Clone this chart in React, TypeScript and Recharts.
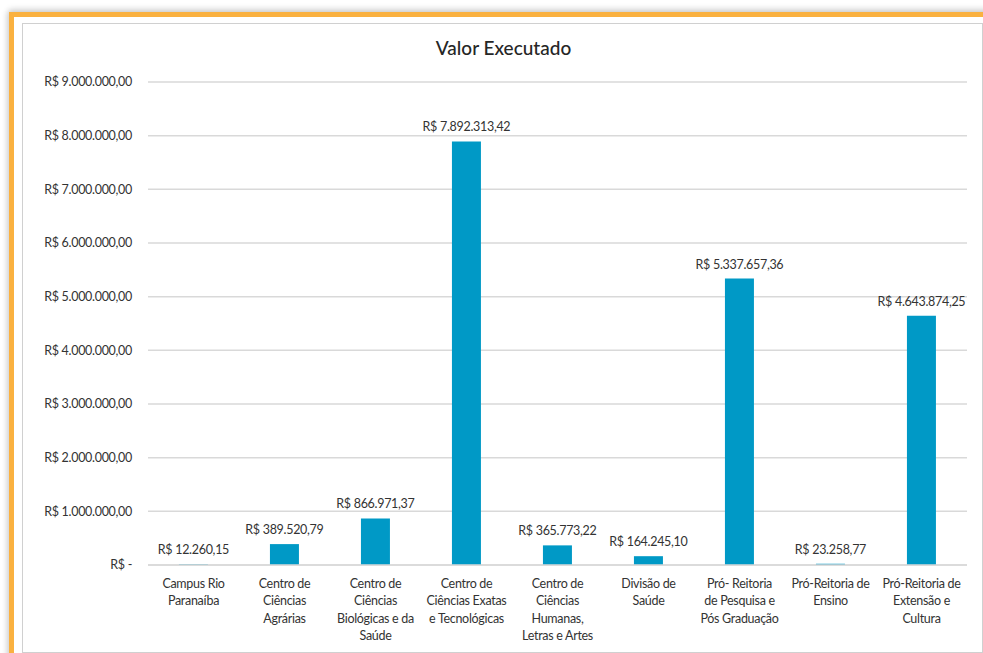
import React from "react";
import { BarChart, Bar, XAxis, YAxis, CartesianGrid, LabelList } from "recharts";

const categories = [
  "Campus Rio\nParanaíba",
  "Centro de\nCiências\nAgrárias",
  "Centro de\nCiências\nBiológicas e da\nSaúde",
  "Centro de\nCiências Exatas\ne Tecnológicas",
  "Centro de\nCiências\nHumanas,\nLetras e Artes",
  "Divisão de\nSaúde",
  "Pró- Reitoria\nde Pesquisa e\nPós Graduação",
  "Pró-Reitoria de\nEnsino",
  "Pró-Reitoria de\nExtensão e\nCultura",
];

const valorExecutado = [
  12260.15, 389520.79, 866971.37, 7892313.42, 365773.22, 164245.1, 5337657.36, 23258.77, 4643874.25,
];

const yTicks = [0, 1000000, 2000000, 3000000, 4000000, 5000000, 6000000, 7000000, 8000000, 9000000];

const data = categories.map((c, i) => ({ name: c, value: valorExecutado[i] }));

const FONT = "Lato, 'Open Sans', sans-serif";

function brl(v: number): string {
  if (v === 0) return "R$ -";
  const fixed = v.toFixed(2);
  const [intPart, dec] = fixed.split(".");
  const withDots = intPart.replace(/\B(?=(\d{3})+(?!\d))/g, ".");
  return "R$ " + withDots + "," + dec;
}

const XTick = (props: any) => {
  const { x, y, payload } = props;
  const lines = String(payload.value).split("\n");
  return (
    <g transform={`translate(${x},${y})`}>
      {lines.map((l: string, i: number) => (
        <text key={i} x={0} y={22 + i * 17.3 - 7} dy="0" textAnchor="middle" fontSize={12.5} fill="#333" fontFamily={FONT} letterSpacing={-0.3}>
          {l}
        </text>
      ))}
    </g>
  );
};

const BarLabel = (props: any) => {
  const { x, y, width, value } = props;
  return (
    <text x={x + width / 2} y={y - 10} textAnchor="middle" fontSize={12.5} fill="#333" fontFamily={FONT} letterSpacing={-0.3}>
      {brl(Number(value))}
    </text>
  );
};

export default function App() {
  return (
    <div style={{ position: "absolute", left: 0, top: 0, width: 983, height: 653, background: "#fff", overflow: "hidden" }}>
      <div
        style={{
          position: "absolute",
          left: 9,
          top: 12,
          width: 1000,
          height: 700,
          border: "5px solid #FAB140",
          boxShadow: "0 -3px 6px rgba(0,0,0,0.15), -3px 0 6px rgba(0,0,0,0.1)",
          background: "#fff",
        }}
      />
      <div
        style={{
          position: "absolute",
          left: 22,
          top: 23,
          width: 959,
          height: 628,
          border: "1px solid #d0d0d0",
          background: "#fff",
        }}
      />
      <div
        style={{
          position: "absolute",
          left: 0,
          width: 983,
          top: 36,
          textAlign: "center",
          paddingLeft: 24,
          boxSizing: "border-box",
          fontFamily: FONT,
          fontSize: 19,
          color: "#262626",
          fontWeight: 500,
        }}
      >
        Valor Executado
      </div>
      <div style={{ position: "absolute", left: 0, top: 0 }}>
        <BarChart
          width={983}
          height={653}
          data={data}
          margin={{ top: 82, right: 16, left: 8, bottom: 0 }}
          barCategoryGap="34%"
        >
          <CartesianGrid vertical={false} stroke="#d9d9d9" strokeWidth={1.5} />
          <XAxis
            dataKey="name"
            axisLine={{ stroke: "#d9d9d9", strokeWidth: 1.5 }}
            tickLine={false}
            interval={0}
            tick={<XTick />}
            height={88}
          />
          <YAxis
            width={140}
            domain={[0, 9000000]}
            ticks={yTicks}
            axisLine={false}
            tickLine={false}
            tickSize={0}
            tickMargin={16}
            tickFormatter={brl}
            tick={{ fontSize: 12.5, fill: "#333", fontFamily: FONT, letterSpacing: -0.3 }}
            interval={0}
          />
          <Bar dataKey="value" fill="#0099C6" isAnimationActive={false}>
            <LabelList dataKey="value" content={<BarLabel />} />
          </Bar>
        </BarChart>
      </div>
    </div>
  );
}
